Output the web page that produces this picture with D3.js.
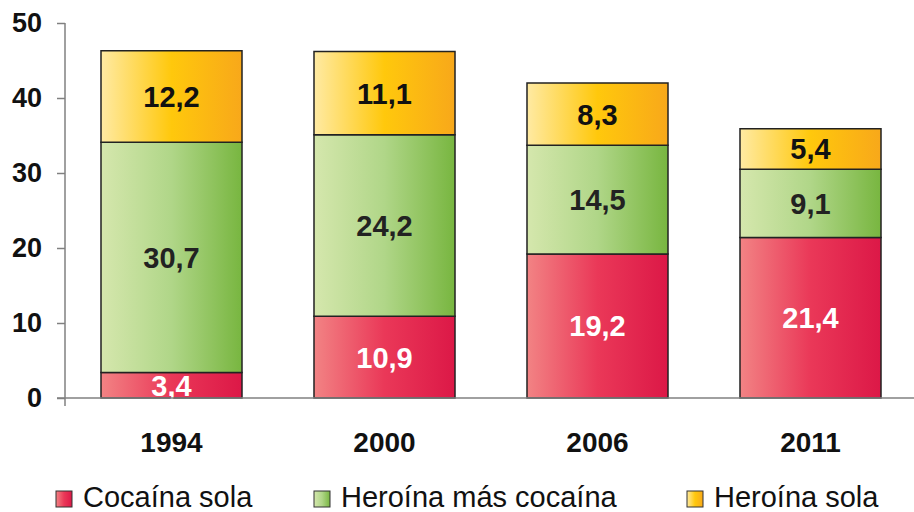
<!DOCTYPE html>
<html>
<head>
<meta charset="utf-8">
<script src="https://cdn.jsdelivr.net/npm/d3@7/dist/d3.min.js"></script>
<style>
  html, body { margin: 0; padding: 0; background: #fff; }
  svg { display: block; font-family: "Liberation Sans", Arial, sans-serif; }
</style>
</head>
<body>
<svg id="chart" width="914" height="512"></svg>
<script>
// Years on the category axis
const years = ["1994", "2000", "2006", "2011"];
// Percentages per group, stacked bottom to top
const cocainaSola = [3.4, 10.9, 19.2, 21.4];
const heroinaMasCocaina = [30.7, 24.2, 14.5, 9.1];
const heroinaSola = [12.2, 11.1, 8.3, 5.4];
const seriesNames = ["Cocaína sola", "Heroína más cocaína", "Heroína sola"];
const yTicks = [0, 10, 20, 30, 40, 50];

const svg = d3.select("#chart");
const x0 = 65, yBottom = 398, yTop = 23;
const FONT = "'Liberation Sans', Arial, sans-serif";

const x = d3.scaleBand().domain(years).range([x0, 917]).paddingInner(0.338).paddingOuter(0.169);
const y = d3.scaleLinear().domain([0, 50]).range([yBottom, yTop]);

// Horizontal gradients for each series
const gradients = [
  { id: "gRed", stops: [[0, "#f28384"], [0.5, "#ea3858"], [1, "#dc1847"]] },
  { id: "gGreen", stops: [[0, "#d5e7ad"], [0.5, "#b0d688"], [1, "#78b640"]] },
  { id: "gYellow", stops: [[0, "#ffeaa3"], [0.5, "#ffc80c"], [1, "#f8a81a"]] }
];
const defs = svg.append("defs");
gradients.forEach(g => {
  const lg = defs.append("linearGradient").attr("id", g.id)
    .attr("x1", "0%").attr("x2", "100%").attr("y1", "0%").attr("y2", "0%");
  g.stops.forEach(s => lg.append("stop").attr("offset", s[0]).attr("stop-color", s[1]));
});

const table = years.map((yr, i) => ({
  year: yr, c: cocainaSola[i], hc: heroinaMasCocaina[i], h: heroinaSola[i]
}));
const keys = ["c", "hc", "h"];
const stacked = d3.stack().keys(keys)(table);
const labelColors = ["#ffffff", "#222222", "#111111"];

// Y axis
const yAxis = d3.axisLeft(y).tickValues(yTicks).tickSize(8).tickPadding(15);
const yg = svg.append("g").attr("transform", `translate(${x0},0)`).call(yAxis);
yg.select(".domain").remove();
yg.selectAll(".tick line").attr("stroke", "#808080").attr("stroke-width", 1.5);
yg.selectAll(".tick text").attr("font-size", 27).attr("font-weight", "bold")
  .attr("fill", "#111").attr("font-family", FONT);
svg.append("line").attr("x1", x0).attr("x2", x0).attr("y1", y(50)).attr("y2", yBottom + 8)
  .attr("stroke", "#808080").attr("stroke-width", 1.5);

// Bars
stacked.forEach((layer, si) => {
  const g = svg.append("g");
  g.selectAll("rect").data(layer).enter().append("rect")
    .attr("x", d => x(d.data.year))
    .attr("width", x.bandwidth())
    .attr("y", d => y(d[1]))
    .attr("height", d => y(d[0]) - y(d[1]))
    .attr("fill", `url(#${gradients[si].id})`)
    .attr("stroke", "#222").attr("stroke-width", 1.5);
  g.selectAll("text").data(layer).enter().append("text")
    .attr("x", d => x(d.data.year) + x.bandwidth() / 2)
    .attr("y", d => (y(d[0]) + y(d[1])) / 2)
    .attr("dy", "0.36em")
    .attr("text-anchor", "middle")
    .attr("font-size", 29).attr("font-weight", "bold")
    .attr("fill", labelColors[si])
    .text(d => String(d.data[keys[si]]).replace(".", ","));
});

// Baseline
svg.append("line").attr("x1", x0 - 8).attr("x2", 914).attr("y1", yBottom).attr("y2", yBottom)
  .attr("stroke", "#808080").attr("stroke-width", 1.5);

// X axis labels
const xAxis = d3.axisBottom(x).tickSize(0);
const xg = svg.append("g").attr("transform", `translate(0,${yBottom})`).call(xAxis);
xg.select(".domain").remove();
xg.selectAll(".tick text").attr("y", 54).attr("dy", 0)
  .attr("font-size", 28).attr("font-weight", "bold")
  .attr("fill", "#111").attr("font-family", FONT);

// Legend
const legendX = [56, 314, 687];
const legend = svg.append("g");
seriesNames.forEach((name, i) => {
  legend.append("rect").attr("x", legendX[i]).attr("y", 491).attr("width", 16).attr("height", 16)
    .attr("fill", `url(#${gradients[i].id})`).attr("stroke", "#333").attr("stroke-width", 1);
  legend.append("text").attr("x", legendX[i] + 27).attr("y", 507)
    .attr("font-size", 29).attr("fill", "#111").text(name);
});
</script>
</body>
</html>
